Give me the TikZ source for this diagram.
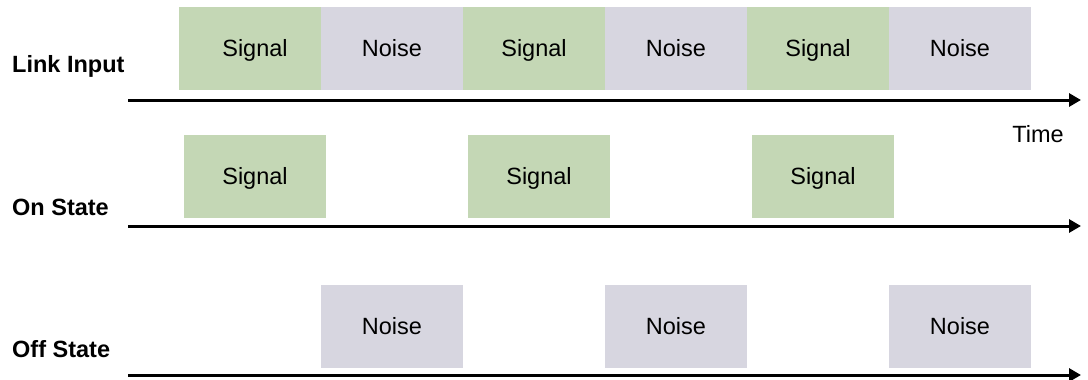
\documentclass[tikz,border=0pt]{standalone}
\usepackage{fontspec}
\setmainfont{Liberation Sans}
\usetikzlibrary{arrows.meta}
\definecolor{sigfill}{RGB}{196,215,181}
\definecolor{noisefill}{RGB}{215,214,224}
\tikzset{
  slot/.style={minimum width=142pt, minimum height=83pt, inner sep=0pt,
    text height=16.8pt, text depth=0pt,
    font=\fontsize{23.5pt}{28pt}\selectfont},
  sigbox/.style={slot, fill=sigfill},
  noisebox/.style={slot, fill=noisefill},
  rowlabel/.style={anchor=base west, inner sep=0pt,
    font=\fontsize{23.5pt}{28pt}\selectfont\bfseries},
  timeaxis/.style={line width=3pt, -{Triangle[length=12pt,width=13pt]}},
}
\begin{document}
\begin{tikzpicture}[x=1pt,y=-1pt]
\useasboundingbox (0,0) rectangle (1088,380);

% link input: alternating signal and noise
\node[sigbox]   (l1) at (250,48.5) {\hspace*{10pt}Signal};
\node[noisebox] (l2) at (392,48.5) {Noise};
\node[sigbox]   (l3) at (534,48.5) {Signal};
\node[noisebox] (l4) at (676,48.5) {Noise};
\node[sigbox]   (l5) at (818,48.5) {Signal};
\node[noisebox] (l6) at (960,48.5) {Noise};

% on state: signal only
\node[sigbox] (s1) at (255,176.5) {Signal};
\node[sigbox] (s2) at (539,176.5) {Signal};
\node[sigbox] (s3) at (823,176.5) {Signal};

% off state: noise only
\node[noisebox] (n1) at (392,326.5) {Noise};
\node[noisebox] (n2) at (676,326.5) {Noise};
\node[noisebox] (n3) at (960,326.5) {Noise};

% row labels
\node[rowlabel] (linkin) at (12,72)  {Link Input};
\node[rowlabel] (onst)   at (12,215) {On State};
\node[rowlabel] (offst)  at (12,357) {Off State};

% time axes
\coordinate (a1s) at (128,100);
\coordinate (a1e) at (1081,100);
\coordinate (a2s) at (128,226);
\coordinate (a2e) at (1081,226);
\coordinate (a3s) at (128,375);
\coordinate (a3e) at (1081,375);
\draw[timeaxis] (a1s) -- (a1e);
\draw[timeaxis] (a2s) -- (a2e);
\draw[timeaxis] (a3s) -- (a3e);

\node[anchor=base, inner sep=0pt, font=\fontsize{23.5pt}{28pt}\selectfont] (time) at (1038,142) {Time};
\end{tikzpicture}
\end{document}
